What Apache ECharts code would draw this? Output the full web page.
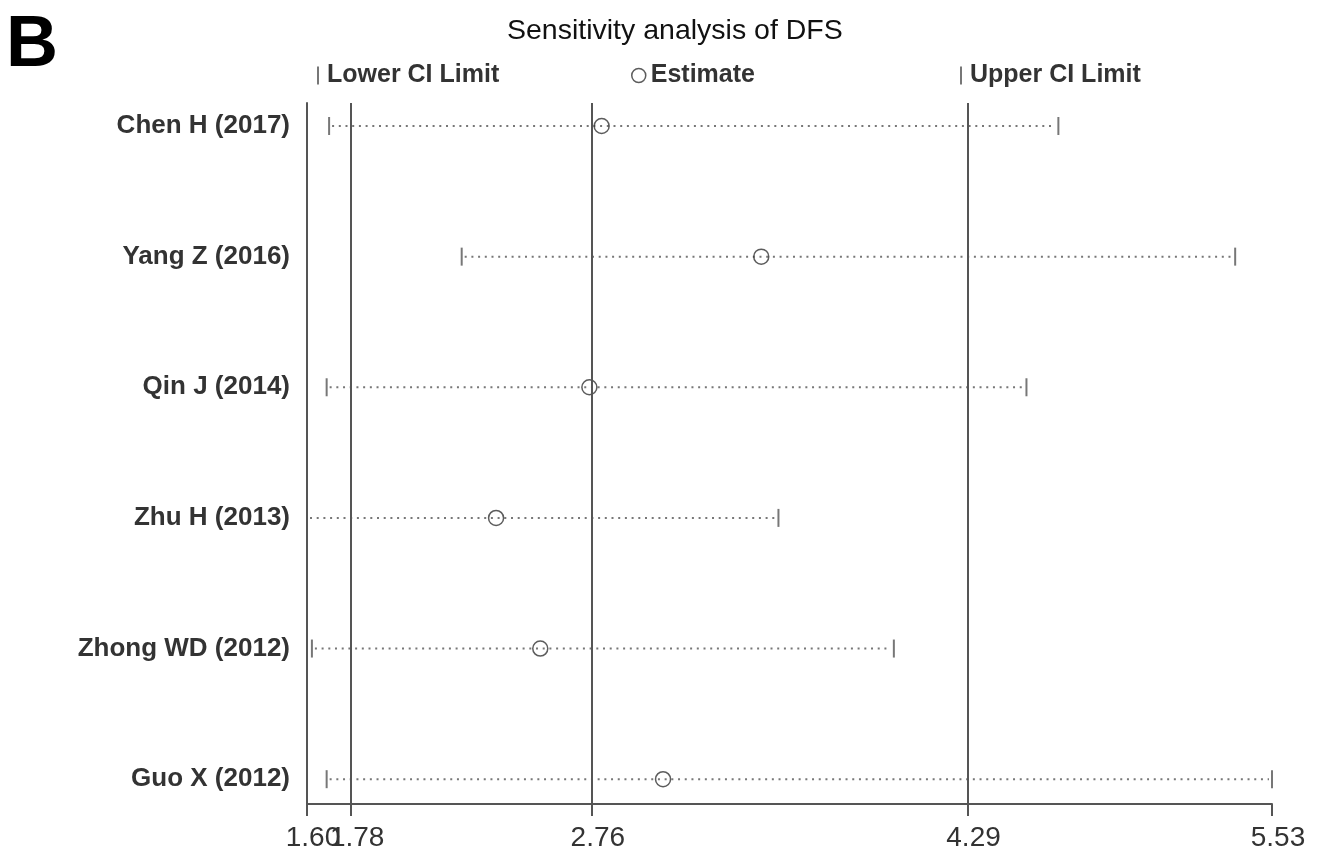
<!DOCTYPE html>
<html>
<head>
<meta charset="utf-8">
<script src="https://cdn.jsdelivr.net/npm/echarts@6/dist/echarts.min.js"></script>
<style>
html,body{margin:0;padding:0;background:#fff;}
#chart{width:1318px;height:846px;}
</style>
</head>
<body>
<div id="chart"></div>
<script>
// ---- data ----
var studies = ['Chen H (2017)', 'Yang Z (2016)', 'Qin J (2014)', 'Zhu H (2013)', 'Zhong WD (2012)', 'Guo X (2012)'];
var lowerCI = [1.69, 2.23, 1.68, 1.60, 1.62, 1.68];
var estimate = [2.80, 3.45, 2.75, 2.37, 2.55, 3.05];
var upperCI = [4.66, 5.38, 4.53, 3.52, 3.99, 5.53];
var xTicks = [1.60, 1.78, 2.76, 4.29, 5.53];
var xLabelsMain = [1.60, 2.76, 4.29, 5.53];
var xLabelsExtra = [1.78];
var refLines = [1.78, 2.76, 4.29];
var titleText = 'Sensitivity analysis of DFS';
var panelLabel = 'B';

var FONT = "'Liberation Sans', Arial, Helvetica, sans-serif";
var chart = echarts.init(document.getElementById('chart'), null, {renderer: 'canvas'});

function pts(vals) { return vals.map(function (v, i) { return [v, i]; }); }
var segData = studies.map(function (s, i) { return [lowerCI[i], upperCI[i], i]; });
var BAR = 'path://M0,0L2,0L2,18L0,18Z';
var xLabelStyle = {margin: 20, fontFamily: FONT, fontSize: 28, color: '#333',
  padding: [0, 0, 0, 12], showMinLabel: true, showMaxLabel: true, hideOverlap: false,
  formatter: function (v) { return v.toFixed(2); }};

var option = {
  backgroundColor: '#fff',
  animation: false,
  title: [
    {text: panelLabel, left: 1, top: 5, textStyle: {fontFamily: FONT, fontSize: 72, fontWeight: 'bold', color: '#000'}},
    {text: titleText, left: 502, top: 12, textStyle: {fontFamily: FONT, fontSize: 28.5, fontWeight: 'normal', color: '#111'}}
  ],
  legend: [
    {data: [{name: 'Lower CI Limit', icon: BAR, itemStyle: {color: '#555'}}], left: 312, top: 58, itemWidth: 2, itemHeight: 20,
     textStyle: {fontFamily: FONT, fontSize: 25, fontWeight: 'bold', color: '#333', lineHeight: 22, padding: [0, 0, 0, 3]}},
    {data: [{name: 'Estimate', icon: 'circle', itemStyle: {color: 'transparent', borderColor: '#333', borderWidth: 1.5}}],
     left: 626, top: 58, itemWidth: 14, itemHeight: 14,
     textStyle: {fontFamily: FONT, fontSize: 25, fontWeight: 'bold', color: '#333', lineHeight: 22, padding: [0, 0, 0, 0]}},
    {data: [{name: 'Upper CI Limit', icon: BAR, itemStyle: {color: '#555'}}], left: 955, top: 58, itemWidth: 2, itemHeight: 20,
     textStyle: {fontFamily: FONT, fontSize: 25, fontWeight: 'bold', color: '#333', lineHeight: 22, padding: [0, 0, 0, 3]}}
  ],
  grid: {left: 307, right: 46, top: 103, bottom: 42, containLabel: false, outerBoundsMode: 'none'},
  xAxis: [
    {
      type: 'value', min: 1.60, max: 5.53,
      axisLine: {show: true, onZero: false, lineStyle: {color: '#555', width: 2}},
      axisTick: {show: true, customValues: xTicks, length: 12, lineStyle: {color: '#555', width: 2}},
      axisLabel: Object.assign({customValues: xLabelsMain}, xLabelStyle),
      splitLine: {show: false}
    },
    {
      type: 'value', min: 1.60, max: 5.53, position: 'bottom',
      axisLine: {show: false, onZero: false},
      axisTick: {show: false},
      axisLabel: Object.assign({customValues: xLabelsExtra}, xLabelStyle),
      splitLine: {show: false}
    }
  ],
  yAxis: {
    type: 'value', inverse: true, min: -0.176, max: 5.19,
    axisLine: {show: true, onZero: false, lineStyle: {color: '#555', width: 2}},
    axisTick: {show: false},
    axisLabel: {customValues: [0, 1, 2, 3, 4, 5], margin: 17, fontFamily: FONT, fontSize: 26,
      fontWeight: 'bold', color: '#333',
      formatter: function (v) { return studies[Math.round(v)]; }},
    splitLine: {show: false}
  },
  series: [
    {
      type: 'custom', name: 'CI', silent: true, z: 2,
      data: segData,
      encode: {x: [0, 1], y: 2},
      renderItem: function (params, api) {
        var p1 = api.coord([api.value(0), api.value(2)]);
        var p2 = api.coord([api.value(1), api.value(2)]);
        return {type: 'line', shape: {x1: p1[0] + 3, y1: p1[1], x2: p2[0] - 3, y2: p2[1]},
          style: {stroke: '#777', lineWidth: 2, lineDash: [2, 4.7]}};
      }
    },
    {
      type: 'scatter', name: 'Lower CI Limit', data: pts(lowerCI), symbol: 'rect', symbolSize: [2, 18],
      itemStyle: {color: '#555'}, silent: true, z: 3
    },
    {
      type: 'scatter', name: 'Upper CI Limit', data: pts(upperCI), symbol: 'rect', symbolSize: [2, 18],
      itemStyle: {color: '#555'}, silent: true, z: 3
    },
    {
      type: 'scatter', name: 'Estimate', data: pts(estimate), symbol: 'circle', symbolSize: 15,
      itemStyle: {color: 'transparent', borderColor: '#333', borderWidth: 1.5}, silent: true, z: 4,
      markLine: {
        silent: true, symbol: 'none', label: {show: false},
        lineStyle: {color: '#555', width: 2, type: 'solid'},
        data: refLines.map(function (v) { return {xAxis: v}; })
      }
    }
  ]
};
chart.setOption(option);
</script>
</body>
</html>
